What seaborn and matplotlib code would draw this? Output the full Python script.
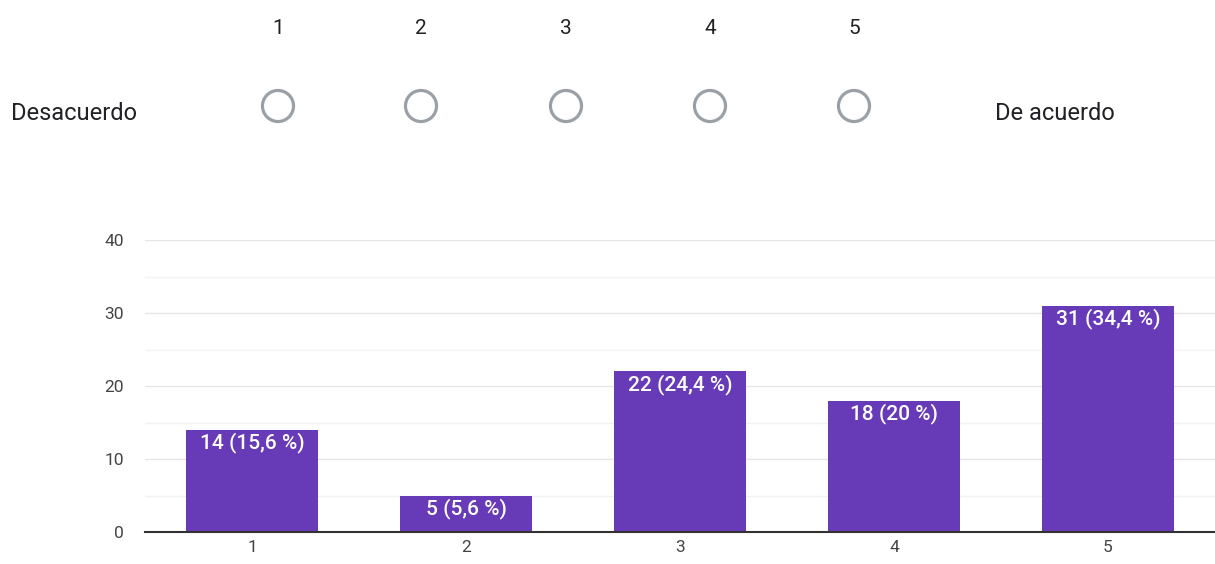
import matplotlib
matplotlib.use("Agg")
import matplotlib.pyplot as plt
import seaborn as sns
import pandas as pd

# ---- data ----
categories = ["1", "2", "3", "4", "5"]
counts = [14, 5, 22, 18, 31]
bar_labels = ["14 (15,6 %)", "5 (5,6 %)", "22 (24,4 %)", "18 (20 %)", "31 (34,4 %)"]
scale_values = [1, 2, 3, 4, 5]
left_label = "Desacuerdo"
right_label = "De acuerdo"
y_ticks = [0, 10, 20, 30, 40]

sns.set_theme(style="white")
plt.rcParams["font.family"] = ["Roboto", "DejaVu Sans"]

W, H = 1215, 564
fig = plt.figure(figsize=(W / 100, H / 100), dpi=100)
fig.patch.set_facecolor("white")

# ---- top Likert scale ----
ax_top = fig.add_axes([0, 0.72, 1, 0.28])
ax_top.set_xlim(0, W)
ax_top.set_ylim(0.28 * 564, 0)
ax_top.axis("off")
xs_px = [278, 421, 566, 710, 854]
for x, v in zip(xs_px, scale_values):
    ax_top.text(x, 28, str(v), ha="center", va="center", fontsize=15, color="#202124")
sns.scatterplot(x=xs_px, y=[106] * 5, ax=ax_top, s=500, marker="o",
                facecolor="none", edgecolor="#9aa0a6", linewidth=2.3, legend=False)
ax_top.text(11, 114, left_label, ha="left", va="center", fontsize=17, color="#202124")
ax_top.text(995, 114, right_label, ha="left", va="center", fontsize=17, color="#202124")

# ---- bar chart ----
ax = fig.add_axes([145 / W, 32 / H, (W - 145) / W, 292 / H])
df = pd.DataFrame({"cat": categories, "count": counts})
sns.barplot(data=df, x="cat", y="count", ax=ax, color="#673ab7", width=0.615,
            saturation=1, edgecolor="none")
ax.set_xlim(-0.5, 4.5)
ax.set_ylim(0, 40)
ax.set_yticks(y_ticks)
ax.set_yticks([5, 15, 25, 35], minor=True)
ax.grid(axis="y", which="major", color="#e6e6e6", linewidth=1)
ax.grid(axis="y", which="minor", color="#f3f3f3", linewidth=1)
ax.set_axisbelow(True)
for s in ["top", "right", "left"]:
    ax.spines[s].set_visible(False)
ax.spines["bottom"].set_color("#333333")
ax.spines["bottom"].set_linewidth(1.5)
ax.set_xlabel("")
ax.set_ylabel("")
ax.tick_params(axis="both", length=0, labelsize=12.5, colors="#444444")
ax.tick_params(axis="y", pad=15)
ax.tick_params(axis="x", pad=6)

for i, (c, lab) in enumerate(zip(counts, bar_labels)):
    ax.annotate(lab, xy=(i, c), xytext=(0, -2), textcoords="offset points",
                ha="center", va="top", color="white", fontsize=15, fontweight="medium")

fig.savefig("out.png", dpi=100, facecolor="white")
